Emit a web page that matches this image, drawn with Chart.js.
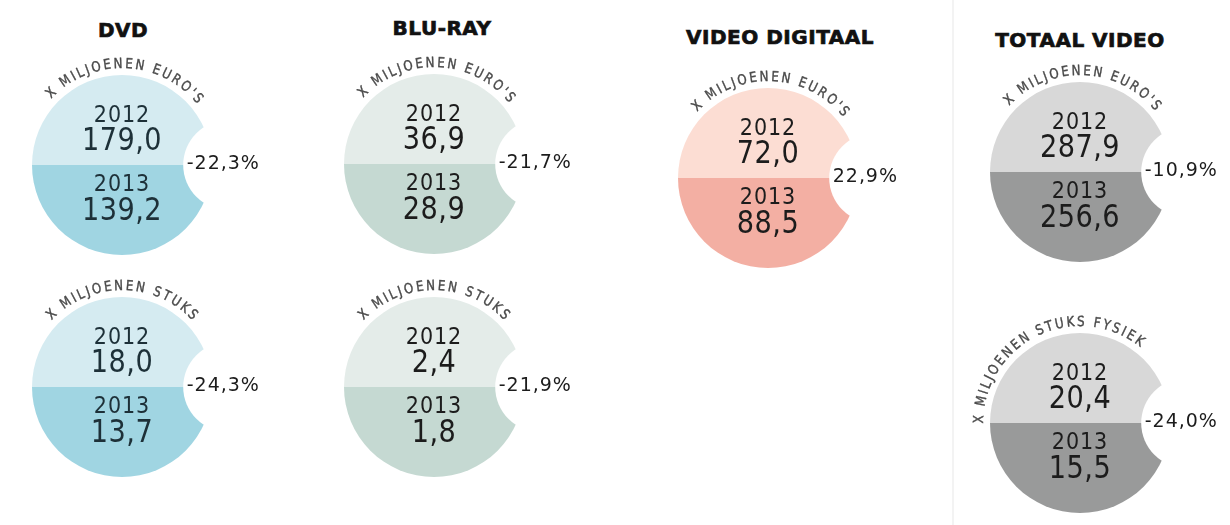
<!DOCTYPE html>
<html lang="nl">
<head>
<meta charset="UTF-8">
<title>Video 2012-2013</title>
<script src="https://cdn.jsdelivr.net/npm/chart.js"></script>
<style>
  html, body { margin: 0; padding: 0; background: #fff; }
  #stage { position: relative; width: 1230px; height: 525px; overflow: hidden; }
  .title { position: absolute; transform: translate(-50%, -50%); font: bold 20px 'DejaVu Sans', sans-serif; color: #111;
           white-space: nowrap; letter-spacing: 0.5px; -webkit-text-stroke: 0.7px #111; }
  .sep { position: absolute; left: 952px; top: 0; width: 2px; height: 525px; background: #f3f3f3; }
  canvas { position: absolute; }
</style>
</head>
<body>
<div id="stage"><div class="sep"></div></div>
<script>
const titles = ['DVD', 'BLU-RAY', 'VIDEO DIGITAAL', 'TOTAAL VIDEO'];
const years = ['2012', '2013'];
const units = ["X MILJOENEN EURO'S", 'X MILJOENEN STUKS', "X MILJOENEN EURO'S", 'X MILJOENEN STUKS',
               "X MILJOENEN EURO'S", "X MILJOENEN EURO'S", 'X MILJOENEN STUKS FYSIEK'];
const panelOf = [0, 0, 1, 1, 2, 3, 3];
const values2012 = [179.0, 18.0, 36.9, 2.4, 72.0, 287.9, 20.4];
const values2013 = [139.2, 13.7, 28.9, 1.8, 88.5, 256.6, 15.5];
const changes = [-22.3, -24.3, -21.7, -21.9, 22.9, -10.9, -24.0];
const split = [1, 1]; // each year gets an equal half of the disc

// layout
const titlePos = [[123, 30], [442, 28], [780, 37], [1080, 40]];
const centers = [[122, 165], [122, 387], [434, 164], [434, 387], [768, 178], [1080, 172], [1080, 423]];
const unitAngle = [88, 90, 88, 90, 88, 88, 116];
const colors = [['#d5ebf1', '#a0d5e2'], ['#e4ece9', '#c5d9d2'], ['#fcddd3', '#f3afa3'], ['#d8d8d8', '#999a9a']];
const ink = ['#1d3038', '#1c1c1c', '#1c1c1c', '#1c1c1c'];

const FONT = "'DejaVu Sans', sans-serif";
const fmt = v => v.toFixed(1).replace('.', ',');

// DejaVu is wide, squeeze it to look like the condensed original
function squeezed(ctx, text, x, y, sx) {
  ctx.save();
  ctx.translate(x, y);
  ctx.scale(sx, 1);
  ctx.fillText(text, 0, 0);
  ctx.restore();
}

function arcText(ctx, text, x, y, R, centerDeg, spacing, sx) {
  const chars = [...text];
  const ws = chars.map(ch => ctx.measureText(ch).width * sx);
  const total = ws.reduce((a, b) => a + b, 0) + spacing * (ws.length - 1);
  let a = -centerDeg * Math.PI / 180 - total / 2 / R;
  chars.forEach((ch, i) => {
    const mid = a + ws[i] / 2 / R;
    ctx.save();
    ctx.translate(x + R * Math.cos(mid), y + R * Math.sin(mid));
    ctx.rotate(mid + Math.PI / 2);
    ctx.scale(sx, 1);
    ctx.strokeText(ch, 0, 0);
    ctx.fillText(ch, 0, 0);
    ctx.restore();
    a += (ws[i] + spacing) / R;
  });
}

const badge = {
  id: 'badge',
  afterDatasetsDraw(chart, args, o) {
    const i = o.idx;
    const p = panelOf[i];
    const arc = chart.getDatasetMeta(0).data[0];
    const { x, y, outerRadius: r } = arc.getProps(['x', 'y', 'outerRadius'], true);
    const ctx = chart.ctx;
    ctx.save();
    // bite out of the right side
    ctx.globalCompositeOperation = 'destination-out';
    ctx.beginPath();
    ctx.arc(x + 1.18 * r, y, 0.5 * r, 0, Math.PI * 2);
    ctx.fill();
    ctx.globalCompositeOperation = 'source-over';

    ctx.fillStyle = ink[p];
    ctx.textAlign = 'center';
    ctx.textBaseline = 'middle';
    ctx.letterSpacing = '1px';
    ctx.font = '23px ' + FONT;
    squeezed(ctx, years[0], x, y - 49, 0.9);
    squeezed(ctx, years[1], x, y + 20, 0.9);
    ctx.letterSpacing = '0.5px';
    ctx.font = '32px ' + FONT;
    squeezed(ctx, fmt(values2012[i]), x, y - 23, 0.85);
    squeezed(ctx, fmt(values2013[i]), x, y + 47, 0.85);

    ctx.fillStyle = '#1c1c1c';
    ctx.textAlign = 'left';
    ctx.letterSpacing = '1px';
    ctx.font = '20px ' + FONT;
    squeezed(ctx, fmt(changes[i]) + '%', x + 0.72 * r, y - 1, 0.95);

    ctx.fillStyle = '#4a4a4a';
    ctx.strokeStyle = '#4a4a4a';
    ctx.lineWidth = 0.4;
    ctx.textAlign = 'center';
    ctx.textBaseline = 'alphabetic';
    ctx.letterSpacing = '0px';
    ctx.font = '14px ' + FONT;
    arcText(ctx, units[i], x, y, r + 7, unitAngle[i], 2.3, 0.85);
    ctx.restore();
  }
};

const stage = document.getElementById('stage');

titles.forEach((t, k) => {
  const d = document.createElement('div');
  d.className = 'title';
  d.textContent = t;
  d.style.left = titlePos[k][0] + 'px';
  d.style.top = titlePos[k][1] + 'px';
  stage.appendChild(d);
});

centers.forEach(([cx, cy], i) => {
  const c = document.createElement('canvas');
  c.width = 330;
  c.height = 280;
  c.style.left = (cx - 115) + 'px';
  c.style.top = (cy - 140) + 'px';
  stage.appendChild(c);
  const p = panelOf[i];
  new Chart(c, {
    type: 'pie',
    data: {
      labels: years,
      datasets: [{ data: split, backgroundColor: colors[p], borderWidth: 0, hoverOffset: 0 }]
    },
    options: {
      responsive: false,
      animation: false,
      events: [],
      rotation: -90,
      layout: { padding: { left: 25, top: 50, right: 125, bottom: 50 } },
      plugins: {
        legend: { display: false },
        tooltip: { enabled: false },
        badge: { idx: i }
      }
    },
    plugins: [badge]
  });
});
</script>
</body>
</html>
